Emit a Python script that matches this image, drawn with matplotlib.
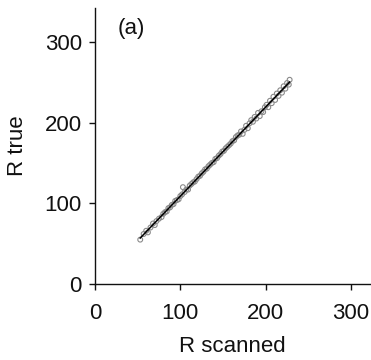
import numpy as np
import matplotlib
matplotlib.use('Agg')
import matplotlib.pyplot as plt

# R scanned vs R true
r_scanned = [53, 57, 60, 62, 65, 68, 70, 72, 75, 78, 80, 82, 84, 86, 88, 90, 92, 94, 96, 98,
             100, 102, 103, 105, 107, 109, 111, 113, 115, 117, 119, 121, 123, 125, 127, 129,
             131, 133, 135, 137, 139, 141, 143, 145, 147, 149, 151, 153, 155, 157, 159, 161,
             163, 165, 167, 169, 171, 173, 175, 177, 179, 181, 183, 185, 187, 189, 191, 193,
             195, 197, 199, 201, 203, 205, 207, 209, 211, 213, 215, 217, 219, 221, 223, 225,
             227, 228]
r_true = [55, 62, 66, 64, 70, 75, 73, 78, 81, 83, 87, 89, 90, 94, 95, 98, 99, 103, 104, 105,
          109, 111, 120, 114, 117, 117, 122, 124, 126, 127, 130, 133, 134, 137, 139, 142,
          143, 146, 148, 150, 151, 155, 156, 159, 161, 164, 165, 168, 170, 172, 174, 177,
          178, 182, 184, 185, 189, 186, 191, 196, 193, 199, 203, 201, 207, 205, 212, 208,
          214, 213, 219, 222, 219, 227, 224, 232, 228, 236, 233, 240, 237, 245, 242, 249,
          247, 253]
ticks = [0, 100, 200, 300]

plt.rcParams['font.family'] = ['Liberation Sans', 'DejaVu Sans']

fig = plt.figure(figsize=(3.71, 3.60), dpi=100)
ax = fig.add_axes([0.256, 0.211, 0.741, 0.767])

x = np.array(r_scanned)
y = np.array(r_true)
ax.scatter(x, y, s=12, facecolors='none', edgecolors='#8a8a8a', linewidths=0.8, zorder=2)
k, b = np.polyfit(x, y, 1)
xs = np.array([x.min(), x.max()])
ax.plot(xs, k * xs + b, color='black', lw=1.1, zorder=3)

ax.set_xlim(0, 322)
ax.set_ylim(0, 342)
ax.set_xticks(ticks)
ax.set_yticks(ticks)
for s in ['top', 'right']:
    ax.spines[s].set_visible(False)
for s in ['left', 'bottom']:
    ax.spines[s].set_linewidth(1.0)
    ax.spines[s].set_color('#111111')
ax.tick_params(direction='out', length=4.5, width=1.0, labelsize=16, colors='#111111')
ax.tick_params(axis='x', pad=9)
ax.tick_params(axis='y', pad=5)
ax.set_xlabel('R scanned', fontsize=16, labelpad=9, color='#111111')
ax.set_ylabel('R true', fontsize=16, labelpad=12, color='#111111')
ax.text(27, 316, '(a)', fontsize=16, va='center', ha='left', color='#111111')

fig.savefig('out.png', dpi=100)
